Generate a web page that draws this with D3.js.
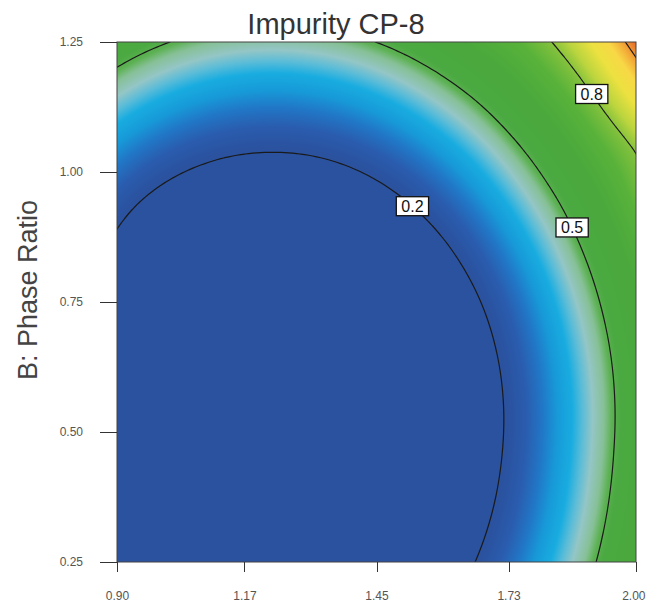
<!DOCTYPE html>
<head>
  <meta charset="utf-8">
  <style>
    body { margin: 0; background: #fff; }
    .axis text { font-family: "Liberation Sans", Arial, sans-serif; font-size: 12px; fill: #555; }
    .axis line { stroke: #333; shape-rendering: crispEdges; }
    .axis path { display: none; }
    .clabel text { font-family: "Liberation Sans", Arial, sans-serif; font-size: 16px; fill: #111; }
  </style>
  <script src="https://d3js.org/d3.v7.min.js" charset="utf-8"></script>
</head>
<body>
  <script>
    // grid of predicted impurity
    const xGrid = [0.90, 1.01, 1.12, 1.23, 1.34, 1.45, 1.56, 1.67, 1.78, 1.89, 2.00];   // A
    const yGrid = [0.25, 0.35, 0.45, 0.55, 0.65, 0.75, 0.85, 0.95, 1.05, 1.15, 1.25];   // B: Phase Ratio
    // rows go from B = 0.25 (bottom) to B = 1.25 (top)
    const impurity = [
      [0.121, 0.058, 0.020, 0.007, 0.020, 0.058, 0.121, 0.210, 0.324, 0.464, 0.629],
      [0.086, 0.023, -0.015, -0.028, -0.015, 0.023, 0.086, 0.175, 0.289, 0.429, 0.594],
      [0.068, 0.004, -0.034, -0.047, -0.034, 0.004, 0.068, 0.156, 0.270, 0.410, 0.575],
      [0.063, -0.001, -0.039, -0.051, -0.039, -0.001, 0.063, 0.152, 0.266, 0.405, 0.570],
      [0.077, 0.014, -0.024, -0.037, -0.024, 0.014, 0.077, 0.166, 0.280, 0.419, 0.584],
      [0.111, 0.047, 0.009, -0.004, 0.009, 0.047, 0.111, 0.199, 0.313, 0.453, 0.618],
      [0.175, 0.100, 0.062, 0.049, 0.062, 0.100, 0.163, 0.252, 0.366, 0.506, 0.670],
      [0.240, 0.171, 0.133, 0.121, 0.133, 0.171, 0.235, 0.324, 0.438, 0.577, 0.742],
      [0.326, 0.262, 0.224, 0.212, 0.224, 0.262, 0.326, 0.414, 0.529, 0.668, 0.815],
      [0.436, 0.372, 0.334, 0.321, 0.334, 0.372, 0.436, 0.524, 0.638, 0.775, 0.970],
      [0.565, 0.501, 0.463, 0.451, 0.463, 0.501, 0.565, 0.653, 0.750, 0.905, 1.160]
    ];
    const levels = [0.2, 0.5, 0.8, 1.1];
    const xTicks = [0.90, 1.17, 1.45, 1.73, 2.00];
    const yTicks = [0.25, 0.50, 0.75, 1.00, 1.25];

    // where the level labels sit (data units)
    const labelSpots = [
      { level: 0.2, x: 1.56, y: 0.965 },
      { level: 0.5, x: 1.873, y: 0.894 },
      { level: 0.8, x: 1.935, y: 1.17 }
    ];

    // colour ramp
    const rampValues = [0.21, 0.25, 0.29, 0.33, 0.37, 0.40, 0.43, 0.465, 0.49, 0.52, 0.62, 0.72, 0.79, 0.85, 0.93, 1.01, 1.08, 1.16];
    const rampColors = ['#2a529f', '#2a5cae', '#2176c6', '#179ad8', '#18ace0', '#5abcd8', '#94c6c6', '#86c096',
                        '#5cb152', '#4aa940', '#4aa83c', '#58b23a', '#80c03c', '#bcd53e', '#ece140', '#f8d846',
                        '#f2a536', '#e4662a'];

    const w = 646, h = 604;
    const pLeft = 117, pRight = 636, pTop = 42, pBottom = 562;

    const x = d3.scaleLinear().domain([0.90, 2.00]).range([pLeft, pRight]);
    const y = d3.scaleLinear().domain([0.25, 1.25]).range([pBottom, pTop]);
    const color = d3.scaleLinear().domain(rampValues).range(rampColors).clamp(true);

    const nx = xGrid.length, ny = yGrid.length;
    const dxg = xGrid[1] - xGrid[0], dyg = yGrid[1] - yGrid[0];

    // grid node with quadratic extension one step past the edges
    function node(i, j) {
      if (i < 0) return 3 * node(0, j) - 3 * node(1, j) + node(2, j);
      if (i > nx - 1) return 3 * node(nx - 1, j) - 3 * node(nx - 2, j) + node(nx - 3, j);
      if (j < 0) return 3 * node(i, 0) - 3 * node(i, 1) + node(i, 2);
      if (j > ny - 1) return 3 * node(i, ny - 1) - 3 * node(i, ny - 2) + node(i, ny - 3);
      return impurity[j][i];
    }
    const cr = (p0, p1, p2, p3, t) =>
      0.5 * (2 * p1 + (p2 - p0) * t + (2 * p0 - 5 * p1 + 4 * p2 - p3) * t * t + (3 * p1 - p0 - 3 * p2 + p3) * t * t * t);

    // smooth (catmull-rom) lookup between grid nodes, only for drawing
    function valueAt(a, b) {
      let fi = (a - xGrid[0]) / dxg, fj = (b - yGrid[0]) / dyg;
      fi = Math.max(0, Math.min(nx - 1.0001, fi));
      fj = Math.max(0, Math.min(ny - 1.0001, fj));
      const i = Math.floor(fi), j = Math.floor(fj);
      const s = fi - i, t = fj - j;
      const rows = [];
      for (let k = -1; k <= 2; k++) {
        rows.push(cr(node(i - 1, j + k), node(i, j + k), node(i + 1, j + k), node(i + 2, j + k), s));
      }
      return cr(rows[0], rows[1], rows[2], rows[3], t);
    }

    const svg = d3.select('body').append('svg')
      .attr('width', w)
      .attr('height', h);

    svg.append('clipPath')
      .attr('id', 'plot-area')
      .append('rect')
      .attr('x', pLeft)
      .attr('y', pTop)
      .attr('width', pRight - pLeft)
      .attr('height', pBottom - pTop);

    // colour surface
    const pw = pRight - pLeft, ph = pBottom - pTop;
    const canvas = document.createElement('canvas');
    canvas.width = pw;
    canvas.height = ph;
    const ctx = canvas.getContext('2d');
    const img = ctx.createImageData(pw, ph);
    for (let r = 0; r < ph; r++) {
      const b = y.invert(pTop + r + 0.5);
      for (let c = 0; c < pw; c++) {
        const a = x.invert(pLeft + c + 0.5);
        const col = d3.rgb(color(valueAt(a, b)));
        const k = (r * pw + c) * 4;
        img.data[k] = col.r;
        img.data[k + 1] = col.g;
        img.data[k + 2] = col.b;
        img.data[k + 3] = 255;
      }
    }
    ctx.putImageData(img, 0, 0);

    svg.append('image')
      .attr('x', pLeft)
      .attr('y', pTop)
      .attr('width', pw)
      .attr('height', ph)
      .attr('href', canvas.toDataURL());

    // contour lines
    const n = 131;
    const fine = new Array(n * n);
    for (let j = 0; j < n; j++) {
      for (let i = 0; i < n; i++) {
        const a = xGrid[0] + i / (n - 1) * (xGrid[nx - 1] - xGrid[0]);
        const b = yGrid[0] + j / (n - 1) * (yGrid[ny - 1] - yGrid[0]);
        fine[j * n + i] = valueAt(a, b);
      }
    }
    const contours = d3.contours().size([n, n]).thresholds(levels)(fine);

    const toData = (p) => [
      xGrid[0] + (p[0] - 0.5) / (n - 1) * (xGrid[nx - 1] - xGrid[0]),
      yGrid[0] + (p[1] - 0.5) / (n - 1) * (yGrid[ny - 1] - yGrid[0])
    ];
    const projection = d3.geoTransform({
      point: function(px, py) {
        const d = toData([px, py]);
        this.stream.point(x(d[0]), y(d[1]));
      }
    });
    const path = d3.geoPath(projection);

    svg.append('g')
      .attr('clip-path', 'url(#plot-area)')
      .selectAll('path')
      .data(contours)
      .enter()
      .append('path')
      .attr('d', path)
      .attr('fill', 'none')
      .attr('stroke', '#1a1a1a')
      .attr('stroke-width', 1.2);

    // frame
    svg.append('rect')
      .attr('x', pLeft)
      .attr('y', pTop)
      .attr('width', pw)
      .attr('height', ph)
      .attr('fill', 'none')
      .attr('stroke', '#444')
      .attr('stroke-width', 1);

    // level labels
    const labels = svg.append('g').attr('class', 'clabel');
    labelSpots.forEach((s) => {
      const cont = contours.find((c) => Math.abs(c.value - s.level) < 1e-9);
      let best = null, bestD = Infinity;
      cont.coordinates.forEach((poly) => poly.forEach((ring) => ring.forEach((p) => {
        const d = toData(p);
        const px = x(d[0]), py = y(d[1]);
        const dist = (px - x(s.x)) ** 2 + (py - y(s.y)) ** 2;
        if (dist < bestD) { bestD = dist; best = [px, py]; }
      })));
      const g = labels.append('g').attr('transform', `translate(${best[0]}, ${best[1]})`);
      const rect = g.append('rect');
      const txt = g.append('text')
        .attr('text-anchor', 'middle')
        .attr('dy', '0.36em')
        .text(d3.format('.1f')(s.level));
      const tw = txt.node().getComputedTextLength();
      rect.attr('x', -tw / 2 - 5)
        .attr('y', -9.5)
        .attr('width', tw + 10)
        .attr('height', 19)
        .attr('fill', '#fff')
        .attr('stroke', '#111')
        .attr('stroke-width', 1.3);
    });

    // axes
    const xAxis = d3.axisBottom(x).tickValues(xTicks).tickSize(10).tickPadding(19).tickFormat(d3.format('.2f'));
    const gx = svg.append('g')
      .attr('class', 'x axis')
      .attr('transform', `translate(0, ${pBottom})`)
      .call(xAxis);
    // last label sits against the page edge
    gx.selectAll('.tick:last-of-type text')
      .attr('text-anchor', 'end')
      .attr('dx', 9);

    const yAxis = d3.axisLeft(y).tickValues(yTicks).tickSize(17).tickPadding(17).tickFormat(d3.format('.2f'));
    svg.append('g')
      .attr('class', 'y axis')
      .attr('transform', `translate(${pLeft}, 0)`)
      .call(yAxis);

    svg.append('text')
      .attr('x', 336)
      .attr('y', 34)
      .attr('text-anchor', 'middle')
      .attr('font-family', '"Liberation Sans", Arial, sans-serif')
      .attr('font-size', 29)
      .attr('fill', '#333')
      .text('Impurity CP-8');

    svg.append('text')
      .attr('transform', 'translate(37, 290) rotate(-90)')
      .attr('text-anchor', 'middle')
      .attr('font-family', '"Liberation Sans", Arial, sans-serif')
      .attr('font-size', 27)
      .attr('fill', '#444')
      .text('B: Phase Ratio');
  </script>
</body>
